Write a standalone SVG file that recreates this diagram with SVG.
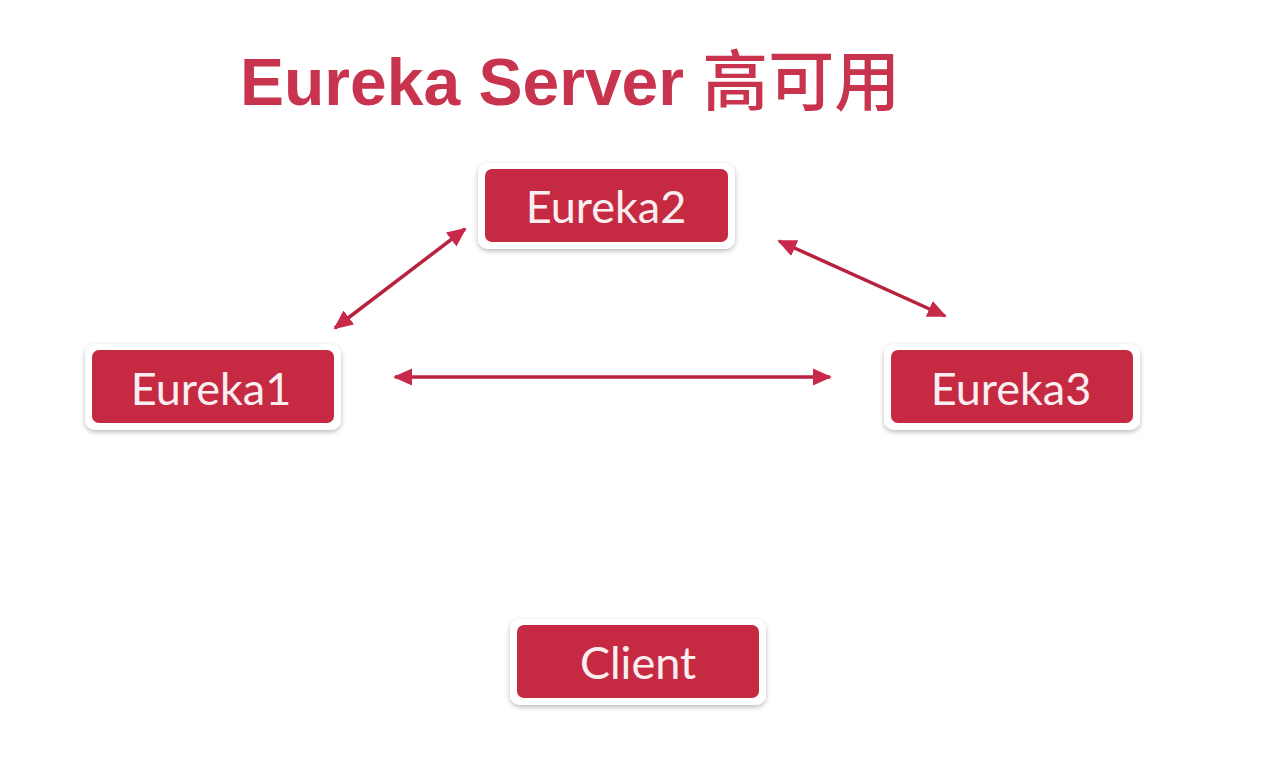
<svg xmlns="http://www.w3.org/2000/svg" width="1281" height="766" viewBox="0 0 1281 766">
<defs>
<style>
.title{font-family:"Liberation Sans","Noto Sans CJK SC",Arial,sans-serif;font-weight:bold;font-size:66px;fill:#c8334e}
.cjk{font-family:"Noto Sans CJK SC",sans-serif;font-weight:500}
.frame{fill:#ffffff;filter:url(#sh)}
.box{fill:#c52a42}
.lbl{font-family:Lato,"Open Sans",sans-serif;font-size:45px;fill:#fbeef0;text-anchor:middle}
.conn{stroke:#b8223f;stroke-width:3.5;fill:none;marker-start:url(#ah);marker-end:url(#ah)}
</style>
<filter id="sh" x="-10%" y="-30%" width="120%" height="160%">
<feDropShadow dx="0" dy="2" stdDeviation="2.5" flood-color="#000000" flood-opacity="0.28"/>
</filter>
<marker id="ah" viewBox="0 0 10 10" refX="9" refY="5" markerWidth="5.5" markerHeight="5.5" orient="auto-start-reverse" markerUnits="strokeWidth">
<path d="M0,0.5 L10,5 L0,9.5 z" fill="#c8284a"/>
</marker>
</defs>
<rect width="1281" height="766" fill="#ffffff"/>
<text class="title" x="240" y="105">Eureka Server <tspan class="cjk">高可用</tspan></text>
<g id="connectors">
<line class="conn" x1="335" y1="328" x2="465" y2="229"/>
<line class="conn" x1="779" y1="241" x2="945" y2="316"/>
<line class="conn" x1="395" y1="377" x2="830" y2="377"/>
</g>
<g id="eureka2">
<rect class="frame" x="478" y="163" width="257" height="86" rx="10"/>
<rect class="box" x="485" y="169" width="243" height="73" rx="7"/>
<text class="lbl" x="606" y="223">Eureka2</text>
</g>
<g id="eureka1">
<rect class="frame" x="85" y="344" width="256" height="86" rx="10"/>
<rect class="box" x="92" y="350" width="242" height="73" rx="7"/>
<text class="lbl" x="211" y="405">Eureka1</text>
</g>
<g id="eureka3">
<rect class="frame" x="884" y="344" width="256" height="86" rx="10"/>
<rect class="box" x="891" y="350" width="242" height="73" rx="7"/>
<text class="lbl" x="1011" y="405">Eureka3</text>
</g>
<g id="client">
<rect class="frame" x="510" y="619" width="256" height="86" rx="10"/>
<rect class="box" x="517" y="625" width="242" height="73" rx="7"/>
<text class="lbl" x="638" y="679">Client</text>
</g>
</svg>
